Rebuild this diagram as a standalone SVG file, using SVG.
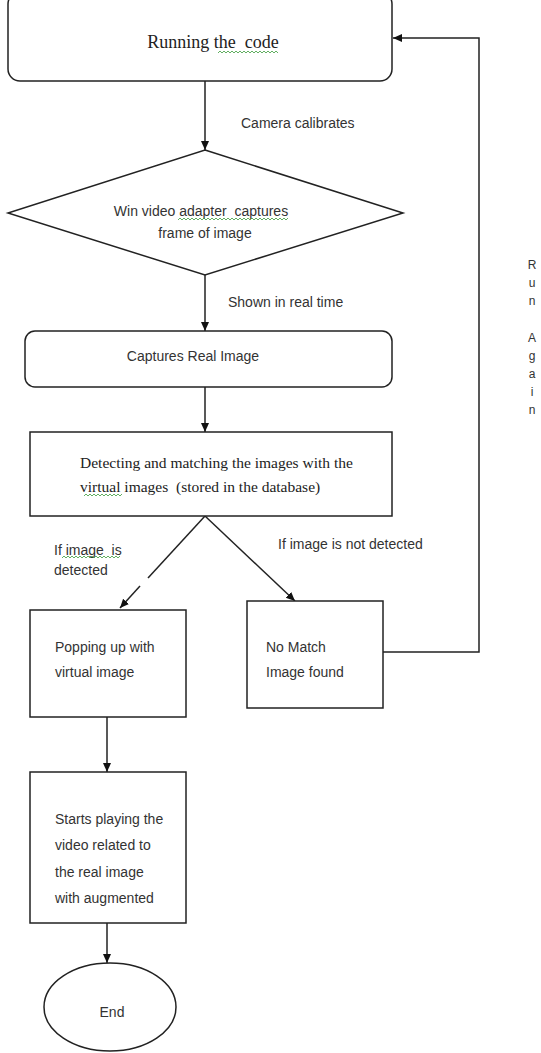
<svg xmlns="http://www.w3.org/2000/svg" width="541" height="1053" viewBox="0 0 541 1053" xml:space="preserve">
<defs>
<marker id="arr" markerWidth="10" markerHeight="10" refX="9" refY="5" orient="auto" markerUnits="userSpaceOnUse">
<path d="M0,1 L9,5 L0,9 Z" fill="#111"/>
</marker>
<style>
text{white-space:pre}
.shape{fill:#fff;stroke:#222;stroke-width:1.5}
.conn{fill:none;stroke:#222;stroke-width:1.5}
.sans{font-family:"Liberation Sans",Arial,sans-serif;font-size:14px;fill:#333}
.serif{font-family:"Liberation Serif","Times New Roman",serif;fill:#222}
.sq{fill:none;stroke:#3a9a3a;stroke-width:0.8}
.ra{font-family:"Liberation Sans",Arial,sans-serif;font-size:12px;fill:#333;text-anchor:middle}
</style>
</defs>
<rect width="541" height="1053" fill="#fff"/>
<g id="connectors">
<line class="conn" x1="205" y1="81" x2="205" y2="150" marker-end="url(#arr)"/>
<line class="conn" x1="205" y1="275" x2="205" y2="331" marker-end="url(#arr)"/>
<line class="conn" x1="205" y1="387" x2="205" y2="432" marker-end="url(#arr)"/>
<line class="conn" x1="205" y1="516" x2="148" y2="578"/>
<line class="conn" x1="140" y1="586" x2="120" y2="608" marker-end="url(#arr)"/>
<line class="conn" x1="205" y1="516" x2="295" y2="601" marker-end="url(#arr)"/>
<line class="conn" x1="107" y1="717" x2="107" y2="772" marker-end="url(#arr)"/>
<line class="conn" x1="107" y1="923" x2="107" y2="963" marker-end="url(#arr)"/>
<path class="conn" d="M383,652 H479 V38 H393" marker-end="url(#arr)"/>
<text class="sans" x="241" y="128">Camera calibrates</text>
<text class="sans" x="228" y="307">Shown in real time</text>
<text class="sans" x="54" y="555">If image  is</text>
<text class="sans" x="54" y="575">detected</text>
<path class="sq" d="M62,558 l2,-2 l2,2 l2,-2 l2,2 l2,-2 l2,2 l2,-2 l2,2 l2,-2 l2,2 l2,-2 l2,2 l2,-2 l2,2 l2,-2 l2,2 l2,-2 l2,2 l2,-2 l2,2 l2,-2 l2,2 l2,-2 l2,2 l2,-2 l2,2 l2,-2 l2,2 l2,-2"/>
<text class="sans" x="278" y="549">If image is not detected</text>
<g id="run-again-label">
<text class="ra" x="532" y="269">R</text>
<text class="ra" x="532" y="287">u</text>
<text class="ra" x="532" y="305">n</text>
<text class="ra" x="532" y="342">A</text>
<text class="ra" x="532" y="360">g</text>
<text class="ra" x="532" y="378">a</text>
<text class="ra" x="532" y="396">i</text>
<text class="ra" x="532" y="414">n</text>
</g>
</g>
<g id="node-running">
<rect class="shape" x="8" y="-8" width="384" height="89" rx="12"/>
<text class="serif" x="213" y="48" font-size="18" text-anchor="middle">Running the  code</text>
<path class="sq" d="M218,53 l2,-2 l2,2 l2,-2 l2,2 l2,-2 l2,2 l2,-2 l2,2 l2,-2 l2,2 l2,-2 l2,2 l2,-2 l2,2 l2,-2 l2,2 l2,-2 l2,2 l2,-2 l2,2 l2,-2 l2,2 l2,-2 l2,2 l2,-2 l2,2 l2,-2 l2,2 l2,-2 l2,2"/>
</g>
<g id="node-diamond">
<polygon class="shape" points="205,150 403,213 205,275 8,213"/>
<text class="sans" x="201" y="216" text-anchor="middle">Win video adapter  captures</text>
<text class="sans" x="205" y="238" text-anchor="middle">frame of image</text>
<path class="sq" d="M178,220 l2,-2 l2,2 l2,-2 l2,2 l2,-2 l2,2 l2,-2 l2,2 l2,-2 l2,2 l2,-2 l2,2 l2,-2 l2,2 l2,-2 l2,2 l2,-2 l2,2 l2,-2 l2,2 l2,-2 l2,2 l2,-2 l2,2 l2,-2 l2,2 l2,-2 l2,2 l2,-2 l2,2 l2,-2 l2,2 l2,-2 l2,2 l2,-2 l2,2 l2,-2 l2,2 l2,-2 l2,2 l2,-2 l2,2 l2,-2 l2,2 l2,-2 l2,2 l2,-2 l2,2 l2,-2 l2,2 l2,-2 l2,2 l2,-2 l2,2 l2,-2"/>
</g>
<g id="node-captures">
<rect class="shape" x="25" y="331" width="367" height="56" rx="10"/>
<text class="sans" x="193" y="361" text-anchor="middle">Captures Real Image</text>
</g>
<g id="node-detecting">
<rect class="shape" x="30" y="432" width="362" height="84"/>
<text class="serif" x="80" y="468" font-size="15.5">Detecting and matching the images with the</text>
<text class="serif" x="80" y="492" font-size="15.5">virtual images  (stored in the database)</text>
<path class="sq" d="M84,496 l2,-2 l2,2 l2,-2 l2,2 l2,-2 l2,2 l2,-2 l2,2 l2,-2 l2,2 l2,-2 l2,2 l2,-2 l2,2 l2,-2 l2,2 l2,-2 l2,2 l2,-2"/>
</g>
<g id="node-popping">
<rect class="shape" x="30" y="610" width="156" height="107"/>
<text class="sans" x="55" y="652">Popping up with</text>
<text class="sans" x="55" y="677">virtual image</text>
</g>
<g id="node-nomatch">
<rect class="shape" x="247" y="601" width="136" height="107"/>
<text class="sans" x="266" y="652">No Match</text>
<text class="sans" x="266" y="677">Image found</text>
</g>
<g id="node-starts">
<rect class="shape" x="30" y="772" width="156" height="151"/>
<text class="sans" x="55" y="824">Starts playing the</text>
<text class="sans" x="55" y="850">video related to</text>
<text class="sans" x="55" y="877">the real image</text>
<text class="sans" x="55" y="903">with augmented</text>
</g>
<g id="node-end">
<ellipse class="shape" cx="110" cy="1007" rx="66" ry="44"/>
<text class="sans" x="112" y="1017" text-anchor="middle">End</text>
</g>
</svg>
